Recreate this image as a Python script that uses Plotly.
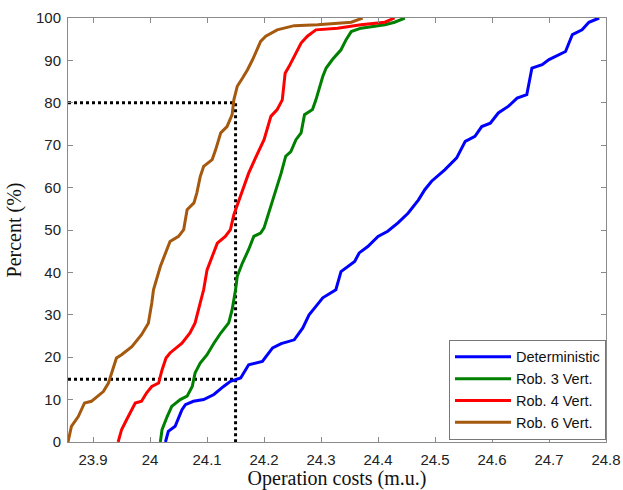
import plotly.graph_objects as go

# Deterministic
det_x = [24.027, 24.032, 24.044, 24.050, 24.056, 24.062, 24.076, 24.094, 24.112, 24.129, 24.141, 24.159,
         24.173, 24.197, 24.215, 24.230, 24.253, 24.268, 24.279, 24.291, 24.303, 24.326, 24.335, 24.359,
         24.367, 24.382, 24.400, 24.417, 24.435, 24.453, 24.471, 24.482, 24.494, 24.517, 24.538, 24.553,
         24.570, 24.582, 24.597, 24.611, 24.629, 24.644, 24.661, 24.670, 24.688, 24.700, 24.729, 24.741,
         24.758, 24.770, 24.788]
det_y = [0, 2.5, 3.7, 5.7, 7.6, 8.8, 9.6, 10, 11.2, 13.1, 14.3, 15.1,
         18.2, 19, 22.2, 23.2, 24.1, 26.9, 30, 32, 34, 35.9, 40.2, 42.6,
         44.6, 46.1, 48.5, 49.7, 51.7, 54, 57.1, 59.5, 61.5, 64.2, 67, 70.9,
         72.1, 74.4, 75.2, 77.6, 79.2, 81.1, 81.9, 88.2, 89, 90.2, 92.1, 96.1,
         97.2, 99, 100]

# Rob. 3 Vert.
r3_x = [24.018, 24.021, 24.030, 24.038, 24.053, 24.065, 24.074, 24.079, 24.088, 24.100, 24.112, 24.124,
        24.138, 24.144, 24.150, 24.153, 24.162, 24.173, 24.182, 24.194, 24.200, 24.212, 24.221, 24.230,
        24.238, 24.247, 24.256, 24.265, 24.271, 24.285, 24.291, 24.297, 24.303, 24.309, 24.320, 24.335,
        24.344, 24.353, 24.370, 24.412, 24.429, 24.447]
r3_y = [0, 2.9, 6, 8.4, 10, 10.8, 13.1, 16.3, 18.6, 20.6, 23.3, 25.7,
        28.1, 31.2, 35.9, 39.1, 42.2, 45.4, 48.5, 49.3, 50.5, 55.6, 59.5, 63.4,
        67.4, 68.5, 71.3, 72.9, 77.2, 78.4, 80.7, 83.5, 86.2, 88.2, 90.2, 92.5,
        94.9, 96.8, 97.6, 98.4, 99, 100]

# Rob. 4 Vert.
r4_x = [23.944, 23.950, 23.959, 23.968, 23.974, 23.985, 23.994, 24.003, 24.015, 24.021, 24.028, 24.035,
        24.056, 24.070, 24.079, 24.088, 24.094, 24.100, 24.118, 24.132, 24.141, 24.147, 24.156, 24.165,
        24.173, 24.185, 24.200, 24.212, 24.223, 24.232, 24.237, 24.244, 24.253, 24.265, 24.276, 24.291,
        24.329, 24.370, 24.412, 24.429]
r4_y = [0, 2.9, 5.3, 7.6, 9.2, 9.6, 11.6, 13.1, 13.9, 17, 19.8, 21,
        23.3, 25.7, 28.1, 32.8, 35.9, 40.6, 46.9, 48.5, 50.1, 53.6, 57.1, 60.3,
        63.4, 67, 71.3, 76.8, 78.4, 80.7, 87, 88.6, 90.9, 94.1, 95.7, 97.2,
        97.6, 98.4, 99, 100]

# Rob. 6 Vert.
r6_x = [23.856, 23.862, 23.874, 23.885, 23.897, 23.918, 23.927, 23.935, 23.941, 23.950, 23.968, 23.985,
        23.997, 24.003, 24.006, 24.018, 24.030, 24.035, 24.050, 24.059, 24.065, 24.077, 24.082, 24.088,
        24.094, 24.109, 24.115, 24.124, 24.135, 24.144, 24.147, 24.153, 24.162, 24.171, 24.180, 24.188,
        24.194, 24.203, 24.223, 24.253, 24.294, 24.353, 24.373]
r6_y = [0, 3.7, 6, 9.2, 9.6, 11.9, 13.9, 17, 19.8, 20.6, 22.5, 25.3,
        28, 32.8, 35.9, 41.4, 45.4, 47.3, 48.5, 50.1, 54.8, 56.4, 58.7, 62.6,
        65, 66.6, 68.9, 72.9, 74.4, 77.2, 80.7, 83.9, 85.8, 87.8, 90.2, 92.5,
        94.5, 95.7, 97.2, 98.2, 98.4, 99, 100]

# Reference guide lines
x_ref = 24.15
y_hi = 80
y_lo = 14.8
x_min, x_max = 23.856, 24.8

names = ["Deterministic", "Rob. 3 Vert.", "Rob. 4 Vert.", "Rob. 6 Vert."]
colors = ["#0000FF", "#008000", "#FF0000", "#A5590F"]
series = [(det_x, det_y), (r3_x, r3_y), (r4_x, r4_y), (r6_x, r6_y)]

fig = go.Figure()

# dotted guides
fig.add_trace(go.Scatter(x=[x_min, x_ref, x_ref], y=[y_hi, y_hi, 0], mode="lines",
                         line=dict(color="black", width=3, dash="dot"), showlegend=False, hoverinfo="skip"))
fig.add_trace(go.Scatter(x=[x_min, x_ref], y=[y_lo, y_lo], mode="lines",
                         line=dict(color="black", width=3, dash="dot"), showlegend=False, hoverinfo="skip"))

for (xs, ys), n, c in zip(series, names, colors):
    fig.add_trace(go.Scatter(x=xs, y=ys, mode="lines", name=n,
                             line=dict(color=c, width=3)))

axis_common = dict(
    showline=True, linecolor="#8a8a8a", linewidth=1, mirror="ticks",
    ticks="inside", ticklen=5, tickcolor="#8a8a8a", showgrid=False, zeroline=False,
    automargin=False,
    tickfont=dict(family="Liberation Sans, Arial", size=15, color="#222"),
)

fig.update_xaxes(range=[x_min, x_max], tickvals=[23.9, 24, 24.1, 24.2, 24.3, 24.4, 24.5, 24.6, 24.7, 24.8],
                 ticktext=["23.9", "24", "24.1", "24.2", "24.3", "24.4", "24.5", "24.6", "24.7", "24.8"],
                 ticklabelstandoff=4,
                 title=dict(text="Operation costs (m.u.)", font=dict(family="Liberation Serif, Times New Roman", size=20, color="#111"),
                            standoff=0),
                 **axis_common)
fig.update_yaxes(range=[0, 100], tickvals=list(range(0, 101, 10)),
                 ticklabelstandoff=3,
                 title=dict(text="Percent (%)", font=dict(family="Liberation Serif, Times New Roman", size=20, color="#111"),
                            standoff=8),
                 **axis_common)

fig.update_layout(
    width=623, height=490,
    margin=dict(l=68, r=17, t=18, b=48, autoexpand=False),
    plot_bgcolor="white", paper_bgcolor="white",
    legend=dict(x=1.0, y=0.005, xanchor="right", yanchor="bottom",
                bgcolor="white", bordercolor="#777", borderwidth=1,
                font=dict(family="Liberation Sans, Arial", size=14.5, color="#111"),
                itemwidth=56, tracegroupgap=0),
)

fig.write_html("out.html")
